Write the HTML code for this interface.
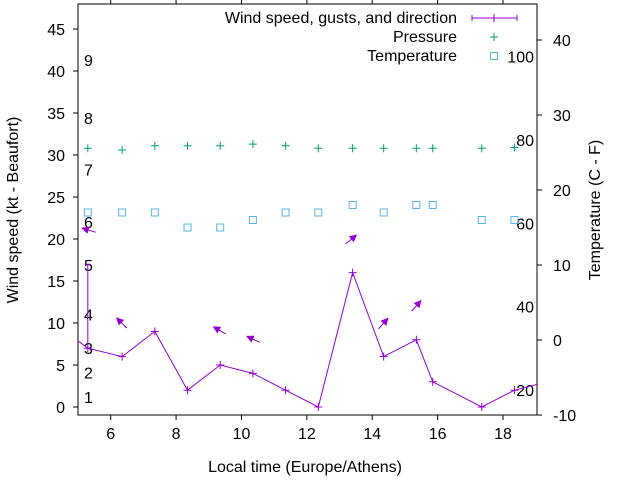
<!DOCTYPE html>
<html><head><meta charset="utf-8"><style>
body{margin:0;background:#fff}
svg text{font-family:"Liberation Sans",sans-serif;font-size:16px;fill:#000}
</style></head><body>
<svg id="c" width="640" height="480" viewBox="0 0 640 480" xmlns="http://www.w3.org/2000/svg">
<defs><clipPath id="clip"><rect x="78" y="4" width="459" height="411"/></clipPath></defs>
</svg>
<script>
const hours=[4.3,5.3,6.35,7.35,8.35,9.35,10.35,11.35,12.35,13.4,14.35,15.35,15.85,17.35,18.35,19.35];
const windKt=[9.9,7,6,9,2,5,4,2,0,16,6,8,3,0,2,3];
const gustKt=[9.9,17,6,9,2,5,4,2,0,16,6,8,3,0,2,3];
const pressHours=[5.3,6.35,7.35,8.35,9.35,10.35,11.35,12.35,13.4,14.35,15.35,15.85,17.35,18.35];
const pressure=[30.8,30.6,31.1,31.1,31.1,31.3,31.1,30.8,30.8,30.8,30.8,30.8,30.8,30.9];
const tempC=[17,17,17,15,15,16,17,17,18,17,18,18,16,16];
const arrowHours=[5.54,6.49,9.52,10.56,13.18,14.19,15.2];
const arrowKt=[20.8,9.4,8.7,7.7,19.4,9.3,11.4];
const arrowDeg=[163,135,150,155,39,48,48];
const xTicks=[6,8,10,12,14,16,18];
const yTicks=[0,5,10,15,20,25,30,35,40,45];
const y2Ticks=[-10,0,10,20,30,40];
const beaufort=[1,2,3,4,5,6,7,8,9];
const beaufortKt=[1.2,4.1,7,11,16.9,22,28.3,34.4,41.3];
const fahr=[20,40,60,80,100];

const L=78,R=537,T=4,B=415;
const X=h=>L+(h-5)*(R-L)/(19.04-5);
const Y=v=>407-v*8.4;
const Y2=c=>340-c*7.5;
const F2C=f=>(f-32)*5/9;
const svg=document.getElementById('c');
const NS='http://www.w3.org/2000/svg';
function el(tag,attrs,parent){const e=document.createElementNS(NS,tag);for(const k in attrs)e.setAttribute(k,attrs[k]);(parent||svg).appendChild(e);return e;}
function txt(s,x,y,anchor,parent){const t=el('text',{x:x,y:y,'text-anchor':anchor||'start'},parent);t.textContent=s;return t;}

const frame=el('rect',{x:L,y:T,width:R-L,height:B-T,fill:'none',stroke:'#000','stroke-width':1});


xTicks.forEach(h=>{
  const x=X(h);
  const t1=el('line',{x1:x,y1:B,x2:x,y2:B+5,stroke:'#000'});
  
  
  const t2=el('line',{x1:x,y1:T,x2:x,y2:T-5,stroke:'#000'});
  
  
  const lb=txt(String(h),x,439,'middle');
  
  
});
yTicks.forEach(v=>{
  const y=Y(v);
  const t=el('line',{x1:L,y1:y,x2:L-5,y2:y,stroke:'#000'});
  
  
  const lb=txt(String(v),65,y+6,'end');
  
  
});
y2Ticks.forEach(c=>{
  const y=Y2(c);
  const t=el('line',{x1:R,y1:y,x2:R+5,y2:y,stroke:'#000'});
  
  
  const lb=txt(String(c),553,y+6,'start');
  
  
});
beaufort.forEach((b,i)=>{
  const lb=txt(String(b),84,Y(beaufortKt[i])+6,'start');
  
  
});
fahr.forEach(f=>{
  const lb=txt(String(f),534,Y2(F2C(f))+6,'end');
  
  
});

const g=el('g',{'clip-path':'url(#clip)'});


const col='#9400d3';
const pl=el('polyline',{points:hours.map((h,i)=>X(h)+','+Y(windKt[i])).join(' '),fill:'none',stroke:col,'stroke-width':1},g);


hours.forEach((h,i)=>{
  const x=X(h),y=Y(windKt[i]),yg=Y(gustKt[i]);
  const m=el('path',{d:`M${x-4},${y}H${x+4}M${x},${y-4}V${y+4}M${x},${y}V${yg}M${x-3},${yg}H${x+3}`,stroke:col,fill:'none'},g);
  
  
});
pressHours.forEach((h,i)=>{
  const x=X(h),y=Y(pressure[i]);
  const m=el('path',{d:`M${x-4},${y}H${x+4}M${x},${y-4}V${y+4}`,stroke:'#009e73',fill:'none'},g);
  
  
});
pressHours.forEach((h,i)=>{
  const x=X(h),y=Y2(tempC[i]);
  const m=el('rect',{x:x-3.5,y:y-3.5,width:7,height:7,fill:'none',stroke:'#56b4e9'},g);
  
  
});
arrowHours.forEach((h,i)=>{
  const x=X(h),y=Y(arrowKt[i]),a=arrowDeg[i]*Math.PI/180,len=14;
  const hx=x+len*Math.cos(a),hy=y-len*Math.sin(a);
  const ux=Math.cos(a),uy=-Math.sin(a);
  const bx=hx-6*ux,by=hy-6*uy;
  const ag=el('g',{},g);
  
  
  el('line',{x1:x,y1:y,x2:hx,y2:hy,stroke:col},ag);
  el('polygon',{points:`${hx},${hy} ${bx-3*uy},${by+3*ux} ${bx+3*uy},${by-3*ux}`,fill:col,stroke:col},ag);
});

const lg=el('g',{});


const e1=txt('Wind speed, gusts, and direction',457,23,'end',lg);


el('path',{d:'M472,18H517M472,15V21M517,15V21M494,14V22',stroke:col,fill:'none'},lg);
const e2=txt('Pressure',457,42,'end',lg);


el('path',{d:'M490,37H498M494,33V41',stroke:'#009e73',fill:'none'},lg);
const e3=txt('Temperature',457,61,'end',lg);


el('rect',{x:490.5,y:52.5,width:7,height:7,fill:'none',stroke:'#56b4e9'},lg);

const xt=txt('Local time (Europe/Athens)',305,472,'middle');


const yt=txt('Wind speed (kt - Beaufort)',0,0,'middle');
yt.setAttribute('transform','translate(18,210) rotate(-90)');


const y2t=txt('Temperature (C - F)',0,0,'middle');
y2t.setAttribute('transform','translate(600,210) rotate(-90)');


</script>
</body></html>
